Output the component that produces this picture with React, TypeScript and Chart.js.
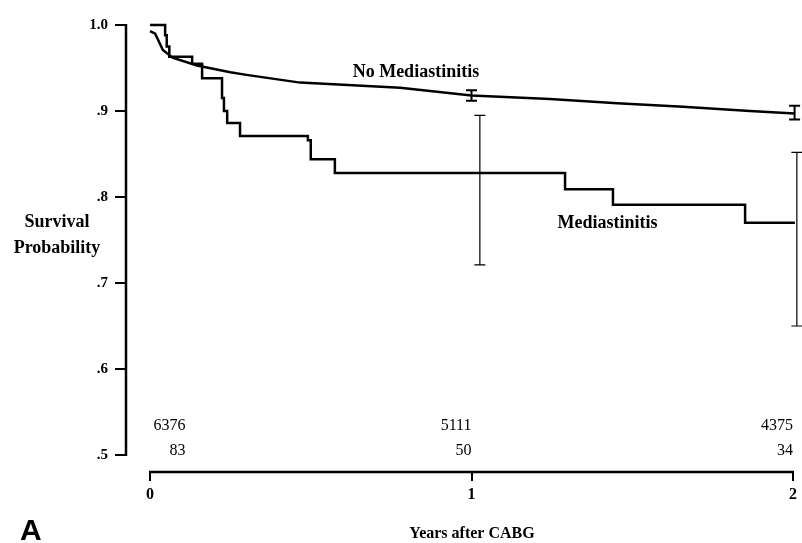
import React, { useEffect, useRef } from 'react';
import { Chart, registerables } from 'chart.js';
Chart.register(...registerables);

// Axis ticks
const yTicks = [0.5, 0.6, 0.7, 0.8, 0.9, 1.0];
const yTickLabels = ['.5', '.6', '.7', '.8', '.9', '1.0'];
const xTicks = [0, 1, 2];
const xTickLabels = ['0', '1', '2'];

// No Mediastinitis survival curve
const noMedX = [0, 0.016, 0.04, 0.07, 0.146, 0.25, 0.3, 0.467, 0.778, 1.0, 1.244, 1.453, 1.658, 1.866, 2.005];
const noMedY = [0.993, 0.99, 0.971, 0.962, 0.953, 0.945, 0.942, 0.933, 0.927, 0.918, 0.914, 0.909, 0.905, 0.9, 0.897];

// Mediastinitis survival (step function)
const medX = [0, 0.047, 0.052, 0.06, 0.131, 0.162, 0.224, 0.23, 0.24, 0.28, 0.491, 0.5, 0.575, 1.291, 1.44, 1.851, 2.006];
const medY = [1.0, 0.988, 0.975, 0.963, 0.955, 0.938, 0.915, 0.9, 0.886, 0.871, 0.866, 0.844, 0.828, 0.809, 0.791, 0.77, 0.77];

// Confidence intervals
const noMedCIx = [1.0, 2.005];
const noMedCILow = [0.912, 0.89];
const noMedCIHigh = [0.924, 0.906];
const medCIx = [1.026, 2.012];
const medCILow = [0.721, 0.65];
const medCIHigh = [0.895, 0.852];

// Numbers at risk
const atRiskX = [0.11, 1, 2];
const atRiskNoMed = [6376, 5111, 4375];
const atRiskMed = [83, 50, 34];

const SERIF = '"Liberation Serif", "Times New Roman", serif';

const overlay = {
  id: 'overlay',
  afterDatasetsDraw(chart: any) {
    const ctx = chart.ctx;
    const xs = chart.scales.x;
    const ys = chart.scales.y;
    const ca = chart.chartArea;
    ctx.save();
    ctx.strokeStyle = '#000';
    ctx.fillStyle = '#000';
    // axes
    ctx.lineWidth = 2.5;
    ctx.beginPath();
    ctx.moveTo(ca.left, ys.getPixelForValue(1.0) - 1);
    ctx.lineTo(ca.left, ys.getPixelForValue(0.5) + 1);
    ctx.stroke();
    ctx.beginPath();
    ctx.moveTo(xs.getPixelForValue(0) - 1, ca.bottom);
    ctx.lineTo(xs.getPixelForValue(2) + 1, ca.bottom);
    ctx.stroke();

    // error bars
    const drawBar = (x: number, lo: number, hi: number, lw: number, cap: number) => {
      const px = xs.getPixelForValue(x);
      const pl = ys.getPixelForValue(lo);
      const ph = ys.getPixelForValue(hi);
      ctx.lineWidth = lw;
      ctx.beginPath();
      ctx.moveTo(px, pl);
      ctx.lineTo(px, ph);
      ctx.moveTo(px - cap, pl);
      ctx.lineTo(px + cap, pl);
      ctx.moveTo(px - cap, ph);
      ctx.lineTo(px + cap, ph);
      ctx.stroke();
    };
    noMedCIx.forEach((x, i) => drawBar(x, noMedCILow[i], noMedCIHigh[i], 2, 5.5));
    medCIx.forEach((x, i) => drawBar(x, medCILow[i], medCIHigh[i], 1.2, 5.5));

    // curve labels
    ctx.font = 'bold 18px ' + SERIF;
    ctx.textAlign = 'center';
    ctx.textBaseline = 'middle';
    ctx.fillText('No Mediastinitis', xs.getPixelForValue(0.827), ys.getPixelForValue(0.945));
    ctx.fillText('Mediastinitis', xs.getPixelForValue(1.423), ys.getPixelForValue(0.769));

    // numbers at risk
    ctx.font = '16px ' + SERIF;
    ctx.textAlign = 'right';
    atRiskX.forEach((x, i) => {
      const px = xs.getPixelForValue(x);
      ctx.fillText(String(atRiskNoMed[i]), px, ca.bottom - 46);
      ctx.fillText(String(atRiskMed[i]), px, ca.bottom - 21);
    });

    // y title
    ctx.font = 'bold 18px ' + SERIF;
    ctx.textAlign = 'center';
    ctx.fillText('Survival', 57, 222);
    ctx.fillText('Probability', 57, 248);

    // x title
    ctx.font = 'bold 16px ' + SERIF;
    ctx.fillText('Years after CABG', 472, 534);

    // panel letter
    ctx.font = 'bold 30px "Liberation Sans", Arial, sans-serif';
    ctx.textAlign = 'left';
    ctx.textBaseline = 'alphabetic';
    ctx.fillText('A', 20, 540);
    ctx.restore();
  },
};

export default function App() {
  const ref = useRef<HTMLCanvasElement>(null);
  useEffect(() => {
    if (!ref.current) return;
    const chart = new Chart(ref.current, {
      type: 'scatter',
      data: {
        datasets: [
          {
            label: 'No Mediastinitis',
            data: noMedX.map((x, i) => ({ x, y: noMedY[i] })),
            showLine: true,
            borderColor: '#000',
            borderWidth: 2.5,
            pointRadius: 0,
            tension: 0,
            clip: false,
          },
          {
            label: 'Mediastinitis',
            data: medX.map((x, i) => ({ x, y: medY[i] })),
            showLine: true,
            stepped: 'before',
            borderColor: '#000',
            borderWidth: 2.5,
            pointRadius: 0,
            clip: false,
          },
        ],
      } as any,
      options: {
        animation: false,
        responsive: false,
        devicePixelRatio: 1,
        layout: { padding: { top: 25, right: 9, left: 0, bottom: 0 } },
        plugins: { legend: { display: false }, tooltip: { enabled: false } },
        scales: {
          x: {
            type: 'linear',
            min: -0.0747,
            max: 2,
            afterBuildTicks: (s: any) => {
              s.ticks = xTicks.map((v) => ({ value: v }));
            },
            afterFit: (s: any) => {
              s.height = 71;
            },
            grid: { display: true, drawOnChartArea: false, drawTicks: true, tickLength: 9, color: '#000', lineWidth: 2 },
            border: { display: false },
            ticks: {
              callback: (_v: any, i: number) => xTickLabels[i],
              font: { family: SERIF, size: 16, weight: 'bold' },
              color: '#000',
              padding: 4,
              maxRotation: 0,
              autoSkip: false,
            },
          },
          y: {
            type: 'linear',
            min: 0.48023,
            max: 1.0,
            afterBuildTicks: (s: any) => {
              s.ticks = yTicks.map((v) => ({ value: v }));
            },
            afterFit: (s: any) => {
              s.width = 126;
            },
            grid: { display: true, drawOnChartArea: false, drawTicks: true, tickLength: 11, color: '#000', lineWidth: 2 },
            border: { display: false },
            ticks: {
              callback: (_v: any, i: number) => yTickLabels[i],
              font: { family: SERIF, size: 15, weight: 'bold' },
              color: '#000',
              padding: 7,
              autoSkip: false,
            },
          },
        },
      } as any,
      plugins: [overlay],
    });
    return () => chart.destroy();
  }, []);
  return (
    <div style={{ position: 'absolute', left: 0, top: 0, width: 802, height: 543, background: '#fff' }}>
      <canvas ref={ref} width={802} height={543} />
    </div>
  );
}
